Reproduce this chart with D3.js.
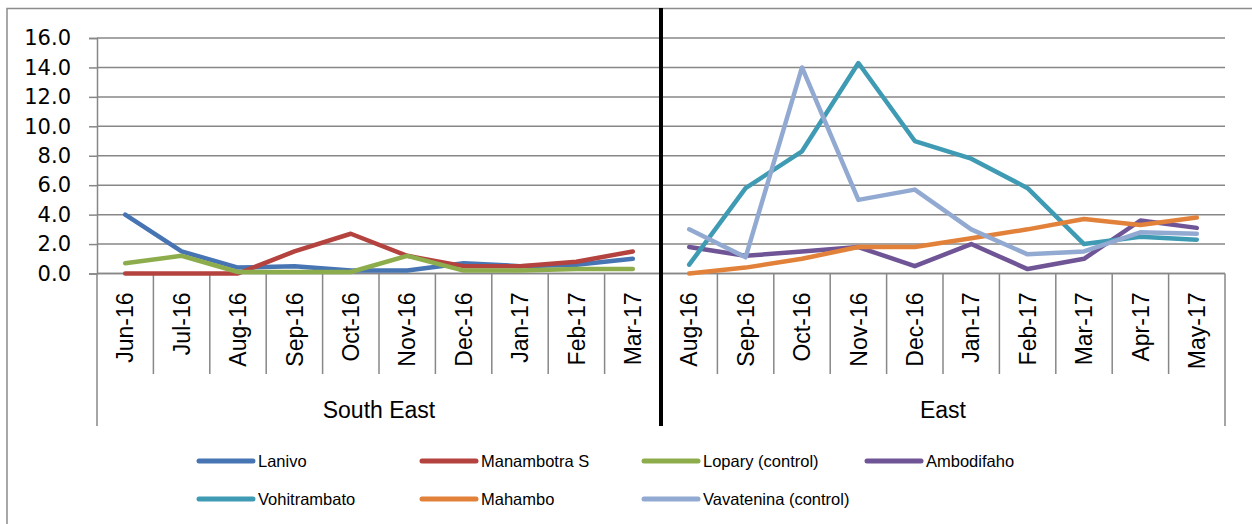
<!DOCTYPE html>
<html>
<head>
<meta charset="utf-8">
<script src="https://cdn.jsdelivr.net/npm/d3@7"></script>
<style>
  html, body { margin: 0; padding: 0; background: #fff; }
  svg { display: block; }
</style>
</head>
<body>
<svg id="chart" width="1252" height="524"></svg>
<script>
// ---- data ----
const categoriesSouthEast = ["Jun-16","Jul-16","Aug-16","Sep-16","Oct-16","Nov-16","Dec-16","Jan-17","Feb-17","Mar-17"];
const categoriesEast = ["Aug-16","Sep-16","Oct-16","Nov-16","Dec-16","Jan-17","Feb-17","Mar-17","Apr-17","May-17"];
const groupNames = ["South East", "East"];
const yTicks = [0, 2, 4, 6, 8, 10, 12, 14, 16];

const lanivo       = [4.0, 1.5, 0.4, 0.5, 0.2, 0.2, 0.7, 0.5, 0.6, 1.0];
const manambotraS  = [0.0, 0.0, 0.0, 1.5, 2.7, 1.2, 0.5, 0.5, 0.8, 1.5];
const lopary       = [0.7, 1.2, 0.1, 0.1, 0.1, 1.2, 0.2, 0.2, 0.3, 0.3];
const ambodifaho   = [1.8, 1.2, 1.5, 1.8, 0.5, 2.0, 0.3, 1.0, 3.6, 3.1];
const vohitrambato = [0.6, 5.8, 8.3, 14.3, 9.0, 7.8, 5.8, 2.0, 2.5, 2.3];
const mahambo      = [0.0, 0.4, 1.0, 1.8, 1.8, 2.4, 3.0, 3.7, 3.3, 3.8];
const vavatenina   = [3.0, 1.1, 14.0, 5.0, 5.7, 3.0, 1.3, 1.5, 2.8, 2.7];

const seriesNames = ["Lanivo","Manambotra S","Lopary (control)","Ambodifaho","Vohitrambato","Mahambo","Vavatenina (control)"];
const seriesValues = [lanivo, manambotraS, lopary, ambodifaho, vohitrambato, mahambo, vavatenina];
const seriesGroup = [0, 0, 0, 1, 1, 1, 1];
const seriesColors = ["#4774b2","#b4433f","#8dad4c","#6f5596","#3e9bb3","#e2823a","#92aad2"];

// ---- layout ----
const svg = d3.select("#chart");
const categories = categoriesSouthEast.concat(categoriesEast);
const groupSize = categoriesSouthEast.length;

const x = d3.scaleBand().domain(d3.range(categories.length)).range([97, 1225]);
const y = d3.scaleLinear().domain([0, 16]).range([273.5, 38]);
const bw = x.bandwidth();

// outer border
svg.append("rect")
  .attr("x", 7).attr("y", 8.5).attr("width", 1300).attr("height", 560)
  .attr("fill", "none").attr("stroke", "#8c8c8c").attr("stroke-width", 1.5);

// gridlines
svg.append("g").selectAll("line").data(yTicks).join("line")
  .attr("x1", 97).attr("x2", 1225)
  .attr("y1", d => y(d)).attr("y2", d => y(d))
  .attr("stroke", "#878787").attr("stroke-width", 1.5);

// y axis
const yAxis = svg.append("g").attr("transform", "translate(97,0)")
  .call(d3.axisLeft(y).tickValues(yTicks).tickFormat(d3.format(".1f")).tickSize(8).tickPadding(18));
yAxis.select(".domain").attr("stroke", "#878787").attr("stroke-width", 1.5);
yAxis.selectAll(".tick line").attr("stroke", "#878787").attr("stroke-width", 1.5);
yAxis.selectAll("text")
  .attr("font-family", "DejaVu Sans").attr("font-size", 21).attr("fill", "#000");

// category axis labels
const xAxis = svg.append("g").attr("transform", "translate(0,273.5)")
  .call(d3.axisBottom(x).tickSize(0).tickFormat(i => categories[i]));
xAxis.select(".domain").remove();
xAxis.selectAll("text")
  .attr("font-family", "Liberation Sans").attr("font-size", 23).attr("fill", "#000")
  .attr("text-anchor", "end")
  .attr("transform", "translate(0,19) rotate(-90)")
  .attr("x", 0).attr("y", 0).attr("dy", "0.36em");

// category separators
const inner = d3.range(1, categories.length).filter(i => i !== groupSize);
svg.append("g").selectAll("line").data(inner).join("line")
  .attr("x1", i => x(i)).attr("x2", i => x(i))
  .attr("y1", 273.5).attr("y2", 374)
  .attr("stroke", "#878787").attr("stroke-width", 1.5);
svg.append("g").selectAll("line").data([0, categories.length]).join("line")
  .attr("x1", i => i === 0 ? x(0) : x.range()[1]).attr("x2", i => i === 0 ? x(0) : x.range()[1])
  .attr("y1", 273.5).attr("y2", 426)
  .attr("stroke", "#878787").attr("stroke-width", 1.5);
svg.append("line")
  .attr("x1", 97).attr("x2", 1225).attr("y1", 273.5).attr("y2", 273.5)
  .attr("stroke", "#878787").attr("stroke-width", 1.5);

// group labels
svg.append("g").selectAll("text").data(groupNames).join("text")
  .attr("x", (d, gi) => (x(gi * groupSize) + (gi === 0 ? x(groupSize) : x.range()[1])) / 2)
  .attr("y", 418)
  .attr("text-anchor", "middle")
  .attr("font-family", "Liberation Sans").attr("font-size", 23).attr("fill", "#000")
  .text(d => d);

// lines
const line = d3.line().x(d => x(d.i) + bw / 2).y(d => y(d.v));
svg.append("g").selectAll("path").data(seriesValues).join("path")
  .attr("d", (vals, si) => line(vals.map((v, k) => ({ i: seriesGroup[si] * groupSize + k, v }))))
  .attr("fill", "none")
  .attr("stroke", (d, si) => seriesColors[si])
  .attr("stroke-width", 4.5)
  .attr("stroke-linejoin", "round")
  .attr("stroke-linecap", "round");

// black separator
svg.append("line")
  .attr("x1", x(groupSize)).attr("x2", x(groupSize))
  .attr("y1", 8).attr("y2", 426)
  .attr("stroke", "#000").attr("stroke-width", 4);

// legend
const legendCols = [197, 420, 642, 865];
const legendRows = [461, 499];
const lg = svg.append("g").selectAll("g").data(seriesNames).join("g")
  .attr("transform", (d, i) => `translate(${legendCols[i % 4]},${legendRows[Math.floor(i / 4)]})`);
lg.append("line")
  .attr("x1", 2).attr("x2", 56).attr("y1", 0).attr("y2", 0)
  .attr("stroke", (d, i) => seriesColors[i]).attr("stroke-width", 5).attr("stroke-linecap", "round");
lg.append("text")
  .attr("x", 61).attr("y", 0).attr("dy", "0.35em")
  .attr("font-family", "Liberation Sans").attr("font-size", 16.5).attr("fill", "#000")
  .text(d => d);
</script>
</body>
</html>
